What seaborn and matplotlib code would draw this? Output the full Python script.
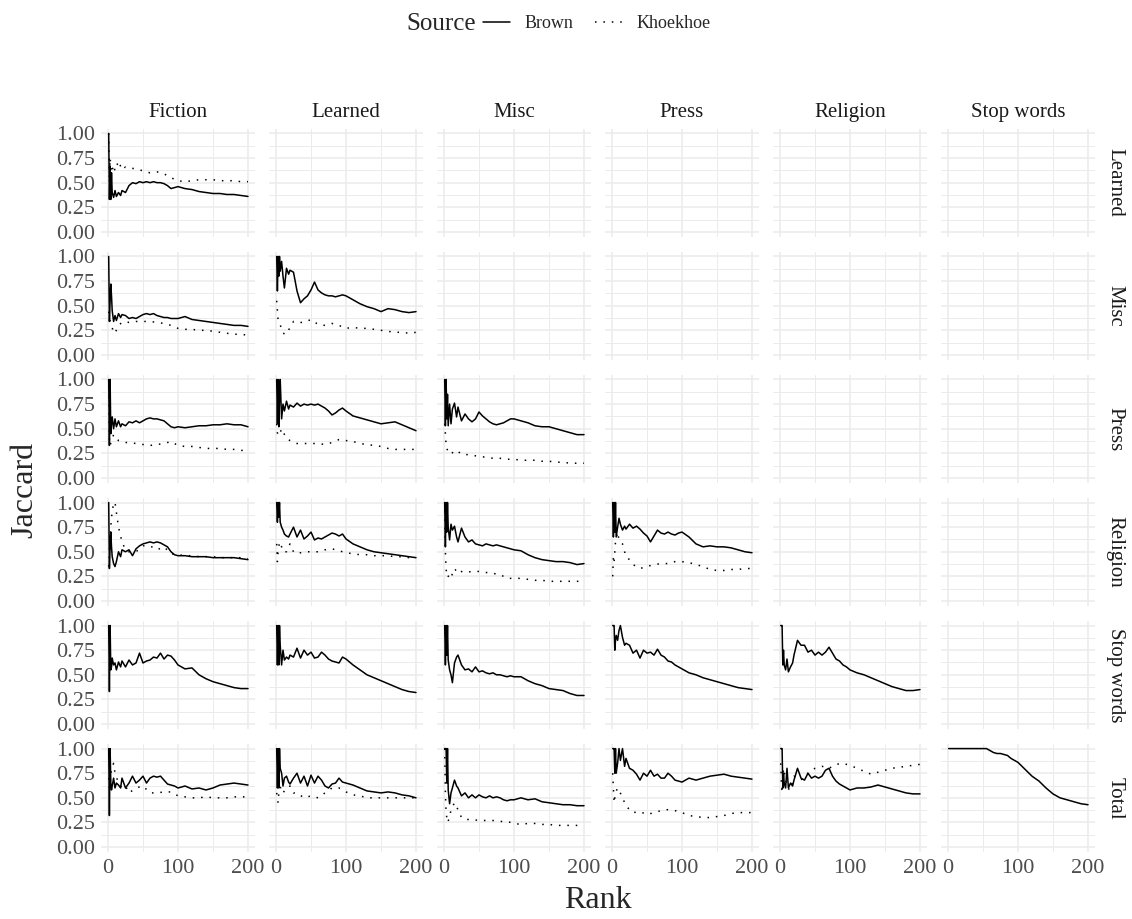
import pandas as pd
import matplotlib
matplotlib.use("Agg")
import matplotlib.pyplot as plt
from matplotlib.lines import Line2D
from matplotlib.ticker import FormatStrFormatter
import seaborn as sns

ROWS = ["Learned", "Misc", "Press", "Religion", "Stop words", "Total"]
COLS = ["Fiction", "Learned", "Misc", "Press", "Religion", "Stop words"]

RANKS = [1, 2, 3, 4, 5, 6, 8, 10, 12, 15, 18, 20,
         25, 30, 35, 40, 45, 50, 55, 60, 65, 70, 75, 80, 85, 90, 95, 100,
         110, 120, 130, 140, 150, 160, 170, 180, 190, 200]
K_RANKS = [1, 2, 3, 5, 8, 10,
           15, 20, 25, 30,
           40, 50, 60, 70, 80, 90, 100, 110, 120, 130, 140, 150, 160, 170, 180, 190, 200]

# row Learned
learned_fiction_brown = [1.00, 0.33, 0.67, 0.33, 0.60, 0.40, 0.35, 0.42, 0.36, 0.40, 0.37, 0.42,
                         0.40, 0.47, 0.50, 0.49, 0.51, 0.50, 0.51, 0.50, 0.51, 0.50, 0.50, 0.49, 0.47, 0.44, 0.45, 0.46,
                         0.44, 0.43, 0.41, 0.40, 0.39, 0.39, 0.38, 0.38, 0.37, 0.36]
learned_fiction_khoe = [1.00, 0.50, 0.75, 0.60, 0.68, 0.62,
                        0.72, 0.63, 0.66, 0.65,
                        0.64, 0.62, 0.60, 0.61, 0.59, 0.55, 0.52, 0.51, 0.52, 0.53, 0.53, 0.53, 0.52, 0.52, 0.52, 0.51, 0.51]

# row Misc
misc_fiction_brown = [1.00, 0.34, 0.55, 0.72, 0.60, 0.45, 0.34, 0.40, 0.35, 0.42, 0.38, 0.41,
                      0.40, 0.37, 0.38, 0.37, 0.39, 0.41, 0.42, 0.41, 0.42, 0.40, 0.39, 0.38, 0.38, 0.37, 0.37, 0.37,
                      0.39, 0.36, 0.35, 0.34, 0.33, 0.32, 0.31, 0.30, 0.30, 0.29]
misc_fiction_khoe = [0.44, 0.40, 0.35, 0.30, 0.23, 0.22,
                     0.30, 0.33, 0.34, 0.33,
                     0.34, 0.34, 0.34, 0.33, 0.32, 0.30, 0.27, 0.26, 0.26, 0.25, 0.25, 0.24, 0.23, 0.22, 0.21, 0.21, 0.20]
misc_learned_brown = [1.00, 0.65, 1.00, 0.80, 1.00, 0.85, 0.95, 0.80, 0.68, 0.88, 0.82, 0.86,
                      0.84, 0.65, 0.53, 0.57, 0.60, 0.66, 0.74, 0.66, 0.63, 0.61, 0.60, 0.60, 0.59, 0.60, 0.61, 0.60,
                      0.56, 0.52, 0.49, 0.47, 0.44, 0.47, 0.46, 0.44, 0.43, 0.44]
misc_learned_khoe = [0.55, 0.45, 0.35, 0.32, 0.27, 0.22,
                     0.21, 0.28, 0.34, 0.33,
                     0.33, 0.36, 0.31, 0.30, 0.32, 0.30, 0.27, 0.28, 0.27, 0.27, 0.26, 0.25, 0.24, 0.23, 0.23, 0.22, 0.23]

# row Press
press_fiction_brown = [1.00, 0.33, 1.00, 0.45, 0.55, 0.62, 0.50, 0.60, 0.52, 0.58, 0.52, 0.55,
                       0.53, 0.57, 0.56, 0.58, 0.56, 0.58, 0.60, 0.61, 0.60, 0.60, 0.59, 0.58, 0.55, 0.52, 0.51, 0.52,
                       0.51, 0.52, 0.53, 0.53, 0.54, 0.54, 0.55, 0.54, 0.54, 0.52]
press_fiction_khoe = [1.00, 0.40, 0.33, 0.38, 0.44, 0.42,
                      0.38, 0.37, 0.36, 0.36,
                      0.35, 0.34, 0.33, 0.34, 0.35, 0.37, 0.33, 0.32, 0.32, 0.31, 0.30, 0.30, 0.30, 0.29, 0.29, 0.28, 0.28]
press_learned_brown = [1.00, 0.55, 1.00, 0.52, 0.80, 1.00, 0.60, 0.75, 0.68, 0.78, 0.70, 0.74,
                       0.72, 0.76, 0.73, 0.75, 0.74, 0.75, 0.74, 0.75, 0.73, 0.71, 0.68, 0.64, 0.66, 0.69, 0.71, 0.68,
                       0.63, 0.61, 0.59, 0.57, 0.55, 0.56, 0.57, 0.54, 0.51, 0.48]
press_learned_khoe = [0.55, 0.46, 0.43, 0.44, 0.50, 0.47,
                      0.40, 0.38, 0.36, 0.35,
                      0.35, 0.35, 0.35, 0.34, 0.36, 0.39, 0.38, 0.37, 0.35, 0.34, 0.33, 0.32, 0.30, 0.29, 0.29, 0.29, 0.29]
press_misc_brown = [1.00, 0.53, 1.00, 0.60, 0.85, 0.53, 0.75, 0.55, 0.70, 0.76, 0.62, 0.72,
                    0.58, 0.65, 0.60, 0.57, 0.60, 0.67, 0.63, 0.60, 0.57, 0.55, 0.54, 0.55, 0.56, 0.58, 0.60, 0.60,
                    0.58, 0.56, 0.53, 0.52, 0.52, 0.50, 0.48, 0.46, 0.44, 0.44]
press_misc_khoe = [0.55, 0.45, 0.33, 0.28, 0.25, 0.24,
                   0.28, 0.27, 0.24, 0.24,
                   0.23, 0.22, 0.21, 0.20, 0.20, 0.19, 0.19, 0.18, 0.18, 0.18, 0.17, 0.17, 0.16, 0.16, 0.15, 0.15, 0.15]

# row Religion
religion_fiction_brown = [1.00, 0.33, 0.55, 0.70, 0.55, 0.45, 0.38, 0.35, 0.40, 0.50, 0.45, 0.52,
                          0.50, 0.52, 0.46, 0.53, 0.56, 0.58, 0.59, 0.60, 0.59, 0.60, 0.59, 0.57, 0.55, 0.50, 0.47, 0.46,
                          0.46, 0.45, 0.45, 0.45, 0.44, 0.44, 0.44, 0.44, 0.43, 0.42]
religion_fiction_khoe = [0.35, 0.50, 0.65, 0.85, 1.00, 1.00,
                         0.75, 0.60, 0.52, 0.50,
                         0.50, 0.56, 0.56, 0.52, 0.55, 0.48, 0.47, 0.46, 0.46, 0.45, 0.45, 0.45, 0.44, 0.44, 0.44, 0.44, 0.43]
religion_learned_brown = [1.00, 0.80, 1.00, 0.85, 1.00, 0.80, 0.75, 0.72, 0.68, 0.66, 0.65, 0.68,
                          0.75, 0.65, 0.72, 0.63, 0.66, 0.70, 0.62, 0.64, 0.63, 0.65, 0.67, 0.69, 0.68, 0.66, 0.68, 0.63,
                          0.58, 0.55, 0.52, 0.50, 0.49, 0.48, 0.47, 0.46, 0.45, 0.44]
religion_learned_khoe = [0.58, 0.40, 0.50, 0.60, 0.55, 0.50,
                         0.50, 0.58, 0.50, 0.48,
                         0.50, 0.50, 0.50, 0.52, 0.53, 0.51, 0.49, 0.48, 0.47, 0.47, 0.46, 0.46, 0.46, 0.45, 0.45, 0.44, 0.44]
religion_misc_brown = [1.00, 0.55, 1.00, 0.70, 1.00, 0.75, 0.62, 0.78, 0.72, 0.76, 0.65, 0.60,
                       0.74, 0.65, 0.60, 0.62, 0.58, 0.57, 0.56, 0.58, 0.57, 0.56, 0.57, 0.56, 0.55, 0.54, 0.53, 0.52,
                       0.51, 0.47, 0.44, 0.42, 0.41, 0.40, 0.40, 0.39, 0.37, 0.38]
religion_misc_khoe = [1.00, 0.50, 0.32, 0.24, 0.27, 0.24,
                      0.33, 0.28, 0.30, 0.29,
                      0.30, 0.30, 0.29, 0.28, 0.27, 0.23, 0.23, 0.23, 0.22, 0.21, 0.21, 0.20, 0.20, 0.20, 0.20, 0.20, 0.20]
religion_press_brown = [1.00, 0.65, 1.00, 0.70, 1.00, 0.65, 0.75, 0.84, 0.78, 0.72, 0.76, 0.73,
                        0.78, 0.74, 0.76, 0.73, 0.69, 0.66, 0.60, 0.66, 0.72, 0.69, 0.68, 0.70, 0.68, 0.67, 0.69, 0.70,
                        0.65, 0.58, 0.55, 0.56, 0.55, 0.55, 0.54, 0.52, 0.50, 0.49]
religion_press_khoe = [0.25, 0.45, 0.40, 0.60, 0.70, 0.62,
                       0.58, 0.45, 0.42, 0.37,
                       0.33, 0.35, 0.37, 0.38, 0.38, 0.40, 0.40, 0.39, 0.37, 0.35, 0.32, 0.31, 0.31, 0.32, 0.32, 0.33, 0.33]

# row Stop words (Brown only)
stop_fiction_brown = [1.00, 0.33, 1.00, 0.55, 0.58, 0.67, 0.60, 0.62, 0.55, 0.63, 0.58, 0.64,
                      0.58, 0.65, 0.60, 0.62, 0.72, 0.62, 0.64, 0.65, 0.68, 0.67, 0.72, 0.66, 0.70, 0.69, 0.65, 0.60,
                      0.56, 0.57, 0.50, 0.46, 0.43, 0.41, 0.39, 0.37, 0.36, 0.36]
stop_learned_brown = [1.00, 0.60, 1.00, 0.60, 1.00, 0.80, 0.60, 0.75, 0.65, 0.68, 0.66, 0.70,
                      0.68, 0.77, 0.67, 0.75, 0.70, 0.73, 0.67, 0.68, 0.73, 0.70, 0.66, 0.64, 0.63, 0.62, 0.68, 0.66,
                      0.60, 0.55, 0.50, 0.47, 0.44, 0.41, 0.38, 0.35, 0.33, 0.32]
stop_misc_brown = [1.00, 0.60, 1.00, 0.70, 1.00, 0.65, 0.55, 0.50, 0.42, 0.62, 0.68, 0.70,
                   0.60, 0.55, 0.56, 0.53, 0.58, 0.53, 0.54, 0.52, 0.51, 0.52, 0.50, 0.50, 0.49, 0.48, 0.49, 0.48,
                   0.48, 0.44, 0.41, 0.39, 0.36, 0.35, 0.34, 0.31, 0.29, 0.29]
stop_press_brown = [1.00, 1.00, 1.00, 0.75, 0.85, 0.90, 0.85, 0.95, 1.00, 0.88, 0.80, 0.82,
                    0.80, 0.72, 0.75, 0.67, 0.75, 0.72, 0.73, 0.70, 0.76, 0.70, 0.68, 0.64, 0.63, 0.60, 0.58, 0.56,
                    0.52, 0.50, 0.47, 0.45, 0.43, 0.41, 0.39, 0.37, 0.36, 0.35]
stop_religion_brown = [1.00, 1.00, 1.00, 0.60, 0.75, 0.60, 0.55, 0.66, 0.53, 0.58, 0.62, 0.70,
                       0.85, 0.80, 0.80, 0.73, 0.75, 0.70, 0.73, 0.70, 0.73, 0.78, 0.72, 0.66, 0.64, 0.60, 0.58, 0.55,
                       0.52, 0.50, 0.47, 0.44, 0.41, 0.38, 0.36, 0.34, 0.34, 0.35]

# row Total
total_fiction_brown = [1.00, 0.32, 1.00, 0.65, 0.58, 0.62, 0.70, 0.60, 0.65, 0.63, 0.60, 0.70,
                       0.60, 0.65, 0.72, 0.65, 0.68, 0.72, 0.65, 0.70, 0.72, 0.71, 0.72, 0.68, 0.64, 0.63, 0.62, 0.60,
                       0.62, 0.59, 0.60, 0.58, 0.60, 0.63, 0.64, 0.65, 0.64, 0.63]
total_fiction_khoe = [0.70, 0.60, 0.65, 0.80, 0.85, 0.75,
                      0.65, 0.60, 0.62, 0.55,
                      0.60, 0.62, 0.55, 0.55, 0.56, 0.56, 0.52, 0.51, 0.50, 0.50, 0.51, 0.50, 0.50, 0.50, 0.51, 0.51, 0.51]
total_learned_brown = [1.00, 0.60, 1.00, 0.60, 1.00, 0.80, 0.75, 0.62, 0.70, 0.72, 0.66, 0.64,
                       0.70, 0.75, 0.65, 0.72, 0.62, 0.73, 0.65, 0.72, 0.68, 0.62, 0.60, 0.64, 0.65, 0.70, 0.66, 0.65,
                       0.63, 0.60, 0.57, 0.56, 0.55, 0.56, 0.55, 0.53, 0.52, 0.50]
total_learned_khoe = [0.55, 0.50, 0.45, 0.65, 0.55, 0.55,
                      0.60, 0.62, 0.55, 0.55,
                      0.50, 0.52, 0.50, 0.55, 0.60, 0.60, 0.56, 0.53, 0.52, 0.50, 0.50, 0.50, 0.50, 0.50, 0.50, 0.50, 0.50]
total_misc_brown = [1.00, 1.00, 1.00, 0.65, 1.00, 0.58, 0.44, 0.55, 0.60, 0.68, 0.62, 0.60,
                    0.52, 0.55, 0.50, 0.53, 0.50, 0.53, 0.51, 0.50, 0.52, 0.50, 0.51, 0.50, 0.48, 0.47, 0.48, 0.48,
                    0.50, 0.48, 0.49, 0.46, 0.45, 0.44, 0.43, 0.43, 0.42, 0.42]
total_misc_khoe = [1.00, 0.55, 0.35, 0.25, 0.30, 0.38,
                   0.45, 0.38, 0.30, 0.28,
                   0.28, 0.27, 0.27, 0.27, 0.26, 0.26, 0.24, 0.23, 0.24, 0.24, 0.23, 0.23, 0.22, 0.22, 0.22, 0.22, 0.22]
total_press_brown = [1.00, 1.00, 1.00, 0.75, 1.00, 0.75, 0.85, 1.00, 0.88, 1.00, 0.82, 0.90,
                     0.80, 0.78, 0.74, 0.68, 0.75, 0.72, 0.78, 0.72, 0.74, 0.70, 0.70, 0.75, 0.72, 0.68, 0.67, 0.66,
                     0.70, 0.68, 0.70, 0.72, 0.73, 0.74, 0.72, 0.71, 0.70, 0.69]
total_press_khoe = [0.75, 0.60, 0.45, 0.55, 0.60, 0.58,
                    0.50, 0.42, 0.38, 0.35,
                    0.36, 0.33, 0.35, 0.37, 0.38, 0.37, 0.35, 0.32, 0.31, 0.30, 0.30, 0.31, 0.32, 0.34, 0.35, 0.35, 0.35]
total_religion_brown = [1.00, 1.00, 1.00, 0.60, 0.75, 0.65, 0.60, 0.80, 0.60, 0.65, 0.62, 0.68,
                        0.80, 0.70, 0.68, 0.75, 0.70, 0.72, 0.70, 0.72, 0.78, 0.80, 0.72, 0.67, 0.64, 0.62, 0.60, 0.58,
                        0.60, 0.60, 0.61, 0.63, 0.61, 0.59, 0.57, 0.55, 0.54, 0.54]
total_religion_khoe = [0.85, 0.65, 0.55, 0.80, 0.70, 0.60,
                       0.58, 0.72, 0.70, 0.68,
                       0.75, 0.80, 0.82, 0.80, 0.84, 0.85, 0.83, 0.80, 0.77, 0.74, 0.76, 0.78, 0.80, 0.81, 0.82, 0.83, 0.84]
total_stop_brown = [1.00, 1.00, 1.00, 1.00, 1.00, 1.00, 1.00, 1.00, 1.00, 1.00, 1.00, 1.00,
                    1.00, 1.00, 1.00, 1.00, 1.00, 1.00, 1.00, 0.98, 0.96, 0.95, 0.95, 0.94, 0.93, 0.90, 0.88, 0.86,
                    0.79, 0.72, 0.67, 0.60, 0.54, 0.50, 0.48, 0.46, 0.44, 0.43]

series = [
    ("Learned", "Fiction", "Brown", learned_fiction_brown),
    ("Learned", "Fiction", "Khoekhoe", learned_fiction_khoe),
    ("Misc", "Fiction", "Brown", misc_fiction_brown),
    ("Misc", "Fiction", "Khoekhoe", misc_fiction_khoe),
    ("Misc", "Learned", "Brown", misc_learned_brown),
    ("Misc", "Learned", "Khoekhoe", misc_learned_khoe),
    ("Press", "Fiction", "Brown", press_fiction_brown),
    ("Press", "Fiction", "Khoekhoe", press_fiction_khoe),
    ("Press", "Learned", "Brown", press_learned_brown),
    ("Press", "Learned", "Khoekhoe", press_learned_khoe),
    ("Press", "Misc", "Brown", press_misc_brown),
    ("Press", "Misc", "Khoekhoe", press_misc_khoe),
    ("Religion", "Fiction", "Brown", religion_fiction_brown),
    ("Religion", "Fiction", "Khoekhoe", religion_fiction_khoe),
    ("Religion", "Learned", "Brown", religion_learned_brown),
    ("Religion", "Learned", "Khoekhoe", religion_learned_khoe),
    ("Religion", "Misc", "Brown", religion_misc_brown),
    ("Religion", "Misc", "Khoekhoe", religion_misc_khoe),
    ("Religion", "Press", "Brown", religion_press_brown),
    ("Religion", "Press", "Khoekhoe", religion_press_khoe),
    ("Stop words", "Fiction", "Brown", stop_fiction_brown),
    ("Stop words", "Learned", "Brown", stop_learned_brown),
    ("Stop words", "Misc", "Brown", stop_misc_brown),
    ("Stop words", "Press", "Brown", stop_press_brown),
    ("Stop words", "Religion", "Brown", stop_religion_brown),
    ("Total", "Fiction", "Brown", total_fiction_brown),
    ("Total", "Fiction", "Khoekhoe", total_fiction_khoe),
    ("Total", "Learned", "Brown", total_learned_brown),
    ("Total", "Learned", "Khoekhoe", total_learned_khoe),
    ("Total", "Misc", "Brown", total_misc_brown),
    ("Total", "Misc", "Khoekhoe", total_misc_khoe),
    ("Total", "Press", "Brown", total_press_brown),
    ("Total", "Press", "Khoekhoe", total_press_khoe),
    ("Total", "Religion", "Brown", total_religion_brown),
    ("Total", "Religion", "Khoekhoe", total_religion_khoe),
    ("Total", "Stop words", "Brown", total_stop_brown),
]

frames = []
for row, col, src, vals in series:
    ranks = RANKS if src == "Brown" else K_RANKS
    frames.append(pd.DataFrame({"Rank": ranks, "Jaccard": vals,
                                "Row": row, "Col": col, "Source": src}))
data = pd.concat(frames, ignore_index=True)

sns.set_theme(style="white")
plt.rcParams["font.family"] = ["Liberation Serif", "DejaVu Serif"]

DOTTED = (1, 4.5)
g = sns.relplot(data=data, x="Rank", y="Jaccard", row="Row", col="Col",
                style="Source", style_order=["Brown", "Khoekhoe"],
                row_order=ROWS, col_order=COLS, kind="line",
                dashes={"Brown": "", "Khoekhoe": DOTTED},
                color="black", linewidth=1.1, errorbar=None, legend=False,
                height=1.5, aspect=1.4)

fig = g.figure
fig.set_size_inches(11.32, 9.19)
W, H = 1132, 919
fig.subplots_adjust(left=101 / W, right=1095 / W, top=1 - 128.5 / H,
                    bottom=1 - 852 / H, wspace=14 / 154, hspace=14.7 / 108.4)
g.set_titles("")

for ax in g.axes.flat:
    ax.set_xlim(-10, 210)
    ax.set_ylim(-0.05, 1.05)
    ax.set_xticks([0, 100, 200])
    ax.set_xticks([50, 150], minor=True)
    ax.set_yticks([0, 0.25, 0.5, 0.75, 1.0])
    ax.set_yticks([0.125, 0.375, 0.625, 0.875], minor=True)
    ax.yaxis.set_major_formatter(FormatStrFormatter("%.2f"))
    ax.grid(which="major", color="#EBEBEB", linewidth=1.1)
    ax.grid(which="minor", color="#EBEBEB", linewidth=0.7)
    ax.set_axisbelow(True)
    ax.tick_params(which="both", length=0, labelsize=16, labelcolor="#4D4D4D")
    ax.tick_params(axis="y", pad=4)
    ax.tick_params(axis="x", pad=5)
    for s in ax.spines.values():
        s.set_visible(False)
    ax.set_xlabel("")
    ax.set_ylabel("")

for col, ax in zip(COLS, g.axes[0]):
    ax.text(0.5, 1.06, col, transform=ax.transAxes, ha="center", va="bottom",
            fontsize=15, color="#1A1A1A")
for row, ax in zip(ROWS, g.axes[:, -1]):
    ax.text(1.07, 0.5, row, transform=ax.transAxes, ha="left", va="center",
            rotation=270, fontsize=15, color="#1A1A1A")

fig.text(25 / W, (1 - 128.5 / H + 1 - 852 / H) / 2, "Jaccard", rotation=90,
         ha="center", va="center", fontsize=23)
fig.text((101 + 1095) / 2 / W, 1 - 900 / H, "Rank", ha="center", va="center", fontsize=23)

handles = [Line2D([0], [0], color="black", linewidth=1.1),
           Line2D([0], [0], color="black", linewidth=1.1, linestyle=(0, DOTTED))]
leg = fig.legend(handles, ["Brown", "Khoekhoe"], loc="center",
                 bbox_to_anchor=(0.527, 1 - 24 / H), ncol=2, frameon=False,
                 fontsize=13, handlelength=1.5, columnspacing=1.2, handletextpad=0.8,
                 borderaxespad=0, borderpad=0)
fig.canvas.draw()
bb = leg.get_window_extent().transformed(fig.transFigure.inverted())
fig.text(bb.x0 - 0.006, 1 - 24 / H, "Source", ha="right", va="center", fontsize=18)

fig.savefig("out.png", dpi=100)
